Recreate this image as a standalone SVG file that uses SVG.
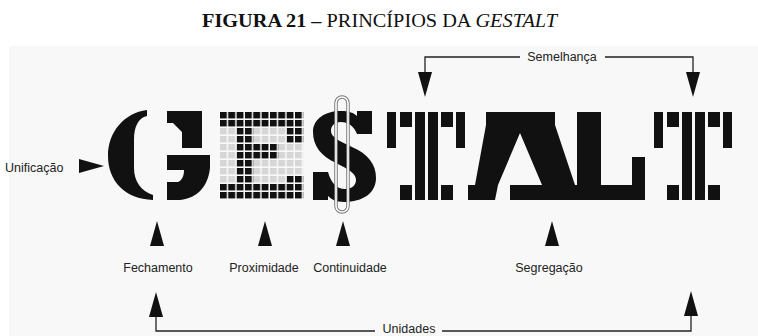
<svg xmlns="http://www.w3.org/2000/svg" xmlns:xlink="http://www.w3.org/1999/xlink" width="758" height="336" viewBox="0 0 758 336">
<style>
.lbl{font-family:"Liberation Sans",Arial,sans-serif;font-size:12.5px;fill:#222}
.ttl{font-family:"Liberation Serif","Times New Roman",serif;font-size:18px;fill:#111}
.ink{fill:#111}
.ln{fill:none;stroke:#222;stroke-width:1.3}
</style>
<defs>
<path id="tri" d="M0,0 L7,25 L-7,25 Z" fill="#111"/>
<pattern id="blk" x="220" y="112" width="8.333" height="8" patternUnits="userSpaceOnUse"><rect width="6.8" height="6.4" fill="#111"/></pattern>
<pattern id="gry" x="220" y="112" width="8.333" height="8" patternUnits="userSpaceOnUse"><rect width="6.8" height="6.4" fill="#d6d6d6"/></pattern>
<g id="tee" class="ink">
<rect x="0" y="112" width="9" height="36"/>
<rect x="13" y="112" width="12" height="15"/>
<rect x="13" y="185" width="12" height="15"/>
<rect x="28" y="112" width="10" height="88"/>
<rect x="41" y="112" width="10" height="88"/>
<rect x="54" y="112" width="12" height="15"/>
<rect x="54" y="185" width="12" height="15"/>
<rect x="69" y="112" width="9" height="36"/>
</g>
</defs>
<rect x="0" y="0" width="758" height="336" fill="#fff"/>
<rect x="9" y="46" width="749" height="290" fill="#f8f8f8"/>
<g id="title">
<text class="ttl" y="27" x="202" textLength="355" lengthAdjust="spacingAndGlyphs"><tspan font-weight="bold">FIGURA 21 –</tspan> PRINCÍPIOS DA <tspan font-style="italic">GESTALT</tspan></text>
</g>
<g id="letter-G" class="ink">
<path d="M147,110 C124,113 108,132 108,156 C108,181 125,199 153,200 L153,195 C141,191 134,181 134,168 L134,140 C134,127 138,118 147,116 Z"/>
<path d="M167,111 H202 V148 H182 V132 L173,123 H167 Z"/>
<path d="M167,155 H210 V168 C208,186 198,198 180,200 H167 V182 H178 C182,180 184,176 184,170 H167 Z"/>
</g>
<g id="letter-E">
<rect x="220" y="112" width="83.33" height="88" fill="url(#gry)"/>
<rect x="220" y="112" width="83.33" height="16" fill="url(#blk)"/>
<rect x="220" y="184" width="83.33" height="16" fill="url(#blk)"/>
<rect x="236.67" y="128" width="16.67" height="56" fill="url(#blk)"/>
<rect x="286.67" y="128" width="16.67" height="16" fill="url(#blk)"/>
<rect x="253.33" y="144" width="25" height="16" fill="url(#blk)"/>
<rect x="286.67" y="176" width="16.67" height="8" fill="url(#blk)"/>
</g>
<g id="letter-S">
<path class="ink" d="M372,111 L372,134 L357,134 C354,126 348,122 341,122 C334,122 331,126 331,131 C331,137 339,141 352,147 C368,154 376,164 376,178 C376,193 363,202 344,202 C336,202 331,199 328,196 L328,200 L313,200 L313,172 L328,172 C331,183 337,189 345,189 C352,189 356,185 356,180 C356,173 348,169 336,163 C321,156 313,146 313,132 C313,119 325,111 341,111 C349,111 354,113 357,116 L357,111 Z"/>
<rect x="336" y="97" width="12" height="115" rx="6" fill="none" stroke="#777" stroke-width="3.5"/>
<rect x="336" y="97" width="12" height="115" rx="6" fill="none" stroke="#fff" stroke-width="1.6"/>
</g>
<g id="letter-T1"><use xlink:href="#tee" x="387"/></g>
<g id="letters-AL" class="ink">
<path d="M486,112 H555 V125 L575,185 H577 V112 H601 V185 H632 V157 H645 V200 H510 V185 H542 L520,133 L498,185 L495,200 H468 V185 H475 L486,125 Z"/>
</g>
<g id="letter-T2"><use xlink:href="#tee" x="654"/></g>
<g id="connectors">
<path class="ln" d="M520,57 H425 V74"/>
<path class="ln" d="M605,57 H693 V74"/>
<use xlink:href="#tri" transform="translate(425,97) rotate(180)"/>
<use xlink:href="#tri" transform="translate(693,97) rotate(180)"/>
<path class="ln" d="M375,331 H156 V314"/>
<path class="ln" d="M442,331 H691 V314"/>
<use xlink:href="#tri" transform="translate(156,292)"/>
<use xlink:href="#tri" transform="translate(691,291)"/>
<use xlink:href="#tri" transform="translate(104,166) rotate(90)"/>
<use xlink:href="#tri" transform="translate(157,221)"/>
<use xlink:href="#tri" transform="translate(265,221)"/>
<use xlink:href="#tri" transform="translate(343,221)"/>
<use xlink:href="#tri" transform="translate(552,221)"/>
</g>
<g id="labels">
<text class="lbl" x="5" y="172">Unificação</text>
<text class="lbl" x="562" y="61" text-anchor="middle">Semelhança</text>
<text class="lbl" x="158" y="272" text-anchor="middle">Fechamento</text>
<text class="lbl" x="264" y="272" text-anchor="middle">Proximidade</text>
<text class="lbl" x="350" y="272" text-anchor="middle">Continuidade</text>
<text class="lbl" x="549" y="272" text-anchor="middle">Segregação</text>
<text class="lbl" x="409" y="333" text-anchor="middle">Unidades</text>
</g>
</svg>
